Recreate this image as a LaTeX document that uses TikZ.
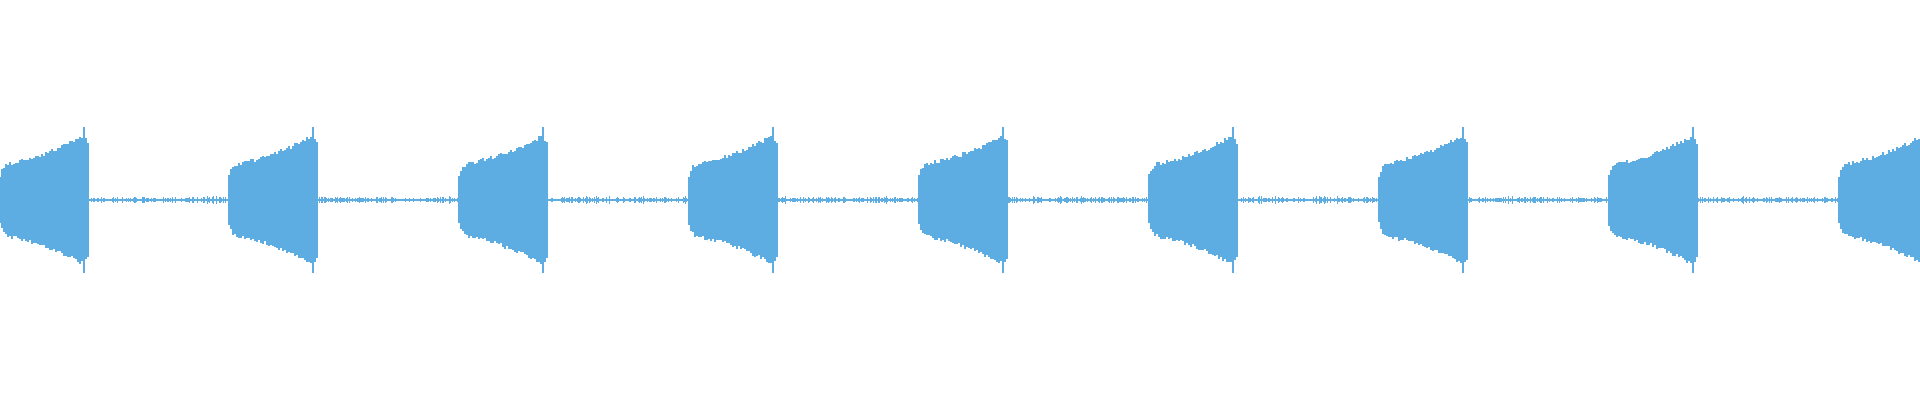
\documentclass[tikz,border=0pt]{standalone}
\usepackage{tikz}
\definecolor{wavei}{RGB}{93,172,226}
\tikzset{
      mybar/.style={draw=wavei,line width=0.022cm},
      mynoise/.style={draw=wavei,line width=0.008cm},
    }
\begin{document}
\begin{tikzpicture}[x=0.01cm,y=-0.01cm]
  \useasboundingbox (0,0) rectangle (1920,400);
  \clip (0,0) rectangle (1920,400);
  \pgfmathsetseed{7}
  % noise floor
  \foreach \x in {0,1,...,1920} {
    \pgfmathsetmacro{\n}{0.8+2.8*rnd^2}
    \draw[mynoise] (\x,200-\n) -- (\x,200+\n);
  }
  % bursts
  \foreach \s in {0,229,459,689,919,1149,1379,1609,1839} {
    \foreach \x in {0,2,...,88} {
      \pgfmathsetmacro{\t}{\x/88}
      \pgfmathsetmacro{\e}{34+30*\t^1.6-12*exp(-\x/3)-8*(\x>84)*(\x-84)/4}
      \pgfmathsetmacro{\a}{\e+4*rnd}
      \pgfmathsetmacro{\b}{\e+4*rnd}
      \draw[mybar] (\s+\x,200-\a) -- (\s+\x,200+\b);
    }
    \draw[mybar] (\s+84,200-73) -- (\s+84,200+73);
  }
\end{tikzpicture}
\end{document}
